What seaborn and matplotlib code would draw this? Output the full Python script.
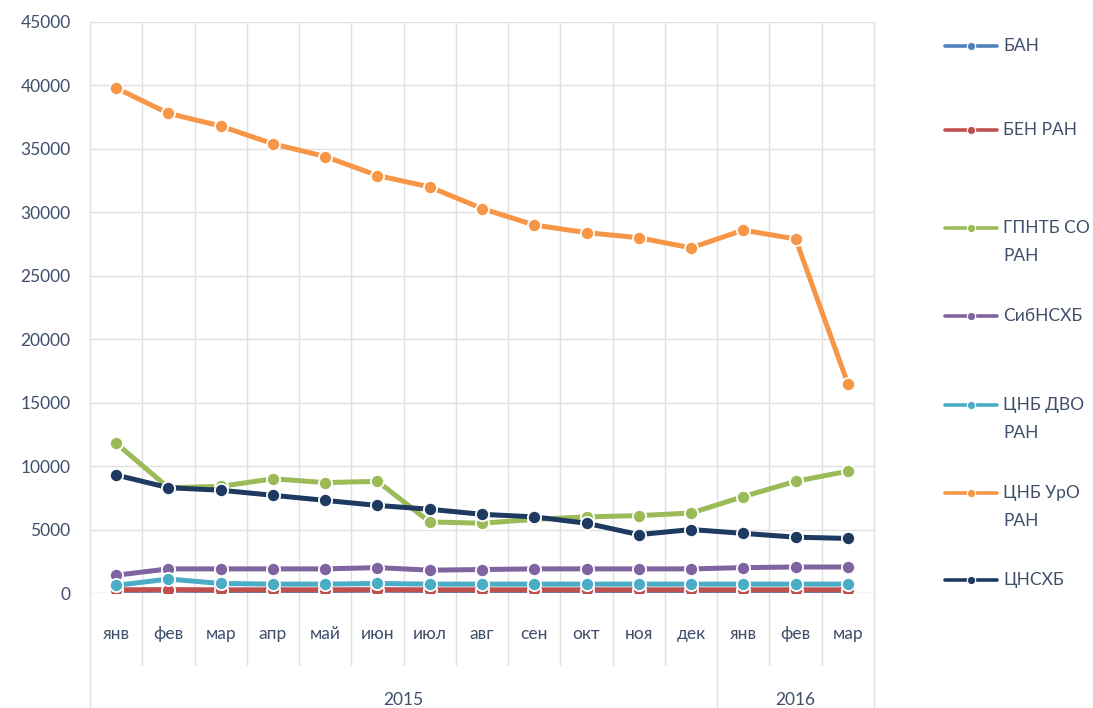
import numpy as np
import pandas as pd
import matplotlib
matplotlib.use("Agg")
import matplotlib.pyplot as plt
import matplotlib.transforms as mtransforms
from matplotlib.lines import Line2D
import seaborn as sns

# ---------------- data ----------------
months = ['янв', 'фев', 'мар', 'апр', 'май', 'июн', 'июл', 'авг', 'сен',
          'окт', 'ноя', 'дек', 'янв', 'фев', 'мар']
years = ['2015', '2016']
year_spans = [(0, 11), (12, 14)]

series_names = ['БАН', 'БЕН РАН', 'ГПНТБ СО РАН', 'СибНСХБ',
                'ЦНБ ДВО РАН', 'ЦНБ УрО РАН', 'ЦНСХБ']
legend_labels = ['БАН', 'БЕН РАН', 'ГПНТБ СО\nРАН', 'СибНСХБ',
                 'ЦНБ ДВО\nРАН', 'ЦНБ УрО\nРАН', 'ЦНСХБ']

ban = [200, 220, 200, 200, 200, 220, 200, 200, 200, 200, 200, 200, 200, 200, 200]
ben_ran = [250, 260, 250, 250, 250, 260, 250, 250, 250, 250, 250, 250, 250, 250, 250]
gpntb = [11800, 8300, 8400, 9000, 8700, 8800, 5600, 5500, 5800, 6000, 6100, 6300, 7600, 8800, 9600]
sibnshb = [1400, 1900, 1900, 1900, 1900, 2000, 1800, 1850, 1900, 1900, 1900, 1900, 2000, 2050, 2050]
cnb_dvo = [600, 1100, 750, 700, 700, 750, 700, 700, 700, 700, 700, 700, 700, 700, 700]
cnb_uro = [39800, 37800, 36800, 35400, 34400, 32900, 32000, 30300, 29000, 28400, 28000, 27200, 28600, 27900, 16500]
cnshb = [9300, 8300, 8100, 7700, 7300, 6900, 6600, 6200, 6000, 5500, 4600, 5000, 4700, 4400, 4300]

all_values = [ban, ben_ran, gpntb, sibnshb, cnb_dvo, cnb_uro, cnshb]
colors = ['#4F81BD', '#C0504D', '#9BBB59', '#8064A2', '#4BACC6', '#F79646', '#1F3A60']

rows = []
for name, vals in zip(series_names, all_values):
    for i, v in enumerate(vals):
        rows.append({'idx': i, 'value': v, 'series': name})
df = pd.DataFrame(rows)

# ---------------- style ----------------
sns.set_style("white")
plt.rcParams['font.family'] = ['Lato', 'DejaVu Sans']
text_color = '#3F4E6A'
fs = 12.5

fig = plt.figure(figsize=(10.93, 7.08), dpi=100)
W, H = 1093, 708
ax_left, ax_right, ax_top, ax_bottom = 90, 874, 22, 593
ax = fig.add_axes([ax_left / W, 1 - ax_bottom / H,
                   (ax_right - ax_left) / W, (ax_bottom - ax_top) / H])

sns.lineplot(data=df, x='idx', y='value', hue='series', hue_order=series_names,
             palette=colors, marker='o', markersize=9.5, markeredgecolor='white',
             markeredgewidth=1.3, linewidth=3.6, sort=False, legend=False, ax=ax,
             zorder=3)

ax.set_xlim(-0.5, len(months) - 0.5)
ax.set_ylim(0, 45000)
ax.set_yticks(np.arange(0, 45001, 5000))
ax.set_yticklabels([str(v) for v in range(0, 45001, 5000)], fontsize=fs, color=text_color)
ax.set_xticks(range(len(months)))
ax.set_xticklabels(months, fontsize=fs, color=text_color)
ax.tick_params(axis='both', length=0)
ax.tick_params(axis='y', pad=14)
ax.tick_params(axis='x', pad=24)
ax.set_xlabel('')
ax.set_ylabel('')
for s in ax.spines.values():
    s.set_visible(False)

grid_c = '#E0E0E0'
# horizontal gridlines
for v in range(0, 45001, 5000):
    ax.axhline(v, color=grid_c if v else '#D0D0D0', lw=1.0, zorder=0)

# vertical category boundaries, extended into label area
trans = mtransforms.blended_transform_factory(ax.transData, ax.transAxes)
low_month = -(665 - ax_bottom) / (ax_bottom - ax_top)
low_group = -(708 - ax_bottom) / (ax_bottom - ax_top)
group_edges = {-0.5, 11.5, len(months) - 0.5}
for k in range(len(months) + 1):
    xb = k - 0.5
    y0 = low_group if xb in group_edges else low_month
    ax.plot([xb, xb], [y0, 1.0], transform=trans, color=grid_c, lw=1.0,
            clip_on=False, zorder=0)

# year labels
for yr, (a, b) in zip(years, year_spans):
    ax.text((a + b) / 2, 1 - 692 / H, yr,
            transform=mtransforms.blended_transform_factory(ax.transData, fig.transFigure),
            ha='center', va='top', fontsize=fs, color=text_color)

# legend (manual layout like Excel's wrapped legend)
legend_y = [46, 130, 228, 316, 405, 493, 580]
for lab, col, yy in zip(legend_labels, colors, legend_y):
    yf = 1 - yy / H
    fig.add_artist(Line2D([945 / W, 997 / W], [yf, yf], transform=fig.transFigure,
                          color=col, lw=2.6))
    fig.add_artist(Line2D([971 / W], [yf], transform=fig.transFigure, color=col,
                          marker='o', markersize=6, markeredgecolor='white',
                          markeredgewidth=0.8, lw=0))
    for j, line in enumerate(lab.split('\n')):
        fig.text(1003 / W, 1 - (yy + 28 * j) / H, line, ha='left', va='center',
                 fontsize=fs, color=text_color)

fig.savefig('out.png', dpi=100)
